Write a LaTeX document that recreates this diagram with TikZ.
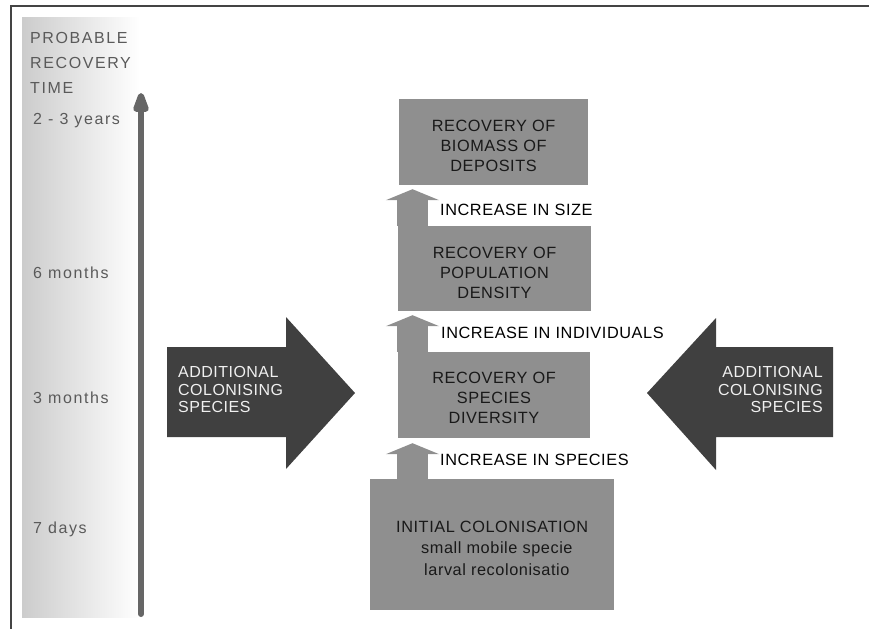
\documentclass[tikz,border=0pt]{standalone}
\usepackage{fontspec}
\setmainfont{Liberation Sans}
\usetikzlibrary{arrows.meta}
\definecolor{boxgray}{HTML}{8F8F8F}
\definecolor{darkarrow}{HTML}{404040}
\definecolor{axisgray}{HTML}{666666}
\definecolor{labgray}{HTML}{5A5A5A}
\definecolor{panelgray}{HTML}{CCCCCC}
\definecolor{framegray}{HTML}{444444}
\newcommand\myboxfont{\fontsize{16.3}{20}\selectfont\addfontfeature{LetterSpace=3.5}}
\newcommand\myarrowfont{\fontsize{16}{17.5}\selectfont\addfontfeature{LetterSpace=3}}
\newcommand\mylabfont{\fontsize{16}{25}\selectfont\addfontfeature{LetterSpace=10}}
\begin{document}
\begin{tikzpicture}[x=1pt,y=-1pt,
  stagebox/.style={fill=boxgray, draw=none, inner sep=0pt},
  stagetext/.style={inner sep=0pt, align=center, font=\myboxfont, text=black!90},
  steparrow/.style={line width=31pt, draw=boxgray, -{Triangle[length=11pt,width=53pt]}},
  steplabel/.style={anchor=west, inner sep=0pt, font=\myboxfont, text=black},
  bigarrow/.style={fill=darkarrow, draw=none},
  bigtext/.style={inner sep=0pt, font=\myarrowfont, text=white!94!black},
  timelabel/.style={anchor=west, inner sep=0pt, font=\mylabfont, text=labgray}]
\useasboundingbox (0,0) rectangle (870,629);
% frame
\draw[line width=1.2pt, framegray] (11,629) -- (11,6) -- (869,6);
% gradient panel
\shade[left color=panelgray, right color=white] (22,17) rectangle (140,617);
% time axis
\coordinate (tbot) at (141,614);
\coordinate (ttop) at (141,93);
\draw[line width=6pt, axisgray, line cap=round, -{Triangle[length=26pt,width=16pt,round]}] (tbot) -- (ttop);
% axis labels
\node[timelabel, align=left] (head) at (30,63) {PROBABLE\\RECOVERY\\TIME};
\node[timelabel] (t1) at (33,121) {2 - 3 years};
\node[timelabel] (t2) at (33,273) {6 months};
\node[timelabel] (t3) at (33,398) {3 months};
\node[timelabel] (t4) at (33,529) {7 days};
% stage boxes
\node[stagebox, minimum width=189pt, minimum height=86pt] (b1) at (493.5,142) {};
\node[stagetext] (b1t) at ([yshift=-3.5pt]b1.center) {RECOVERY OF\\BIOMASS OF\\DEPOSITS};
\node[stagebox, minimum width=193pt, minimum height=85pt] (b2) at (494.5,268.5) {};
\node[stagetext] (b2t) at ([yshift=-4pt]b2.center) {RECOVERY OF\\POPULATION\\DENSITY};
\node[stagebox, minimum width=192pt, minimum height=86pt] (b3) at (494,395) {};
\node[stagetext] (b3t) at ([yshift=-3pt]b3.center) {RECOVERY OF\\SPECIES\\DIVERSITY};
\node[stagebox, minimum width=244pt, minimum height=131pt] (b4) at (492,544.5) {};
\node[inner sep=0pt, anchor=west, align=left, font=\fontsize{16.3}{21.5}\selectfont\addfontfeature{LetterSpace=3.5}, text=black!90] (b4text) at (396,548)
  {INITIAL COLONISATION\\\hspace*{25pt}small mobile specie\\\hspace*{28pt}larval recolonisatio};
% step arrows
\coordinate (ax) at (412.5,0);
\draw[steparrow, shorten >=4pt] (b2.north -| ax) -- (b1.south -| ax);
\draw[steparrow, shorten >=4pt] (b3.north -| ax) -- (b2.south -| ax);
\draw[steparrow, shorten >=5pt] (b4.north -| ax) -- (b3.south -| ax);
\node[steplabel] (s1) at (440,210) {INCREASE IN SIZE};
\node[steplabel] (s2) at (441,333) {INCREASE IN INDIVIDUALS};
\node[steplabel] (s3) at (440,460) {INCREASE IN SPECIES};
% big arrows
\fill[bigarrow] (167,347) -- (286,347) -- (286,317) -- (355,393) -- (286,469) -- (286,437) -- (167,437) -- cycle;
\node[bigtext, anchor=west, align=left] (la) at (178,389.5) {ADDITIONAL\\COLONISING\\SPECIES};
\fill[bigarrow] (833,347) -- (716,347) -- (716,318) -- (647,393) -- (716,470) -- (716,437) -- (833,437) -- cycle;
\node[bigtext, anchor=east, align=right] (ra) at (823,389.5) {ADDITIONAL\\COLONISING\\SPECIES};
\end{tikzpicture}
\end{document}
